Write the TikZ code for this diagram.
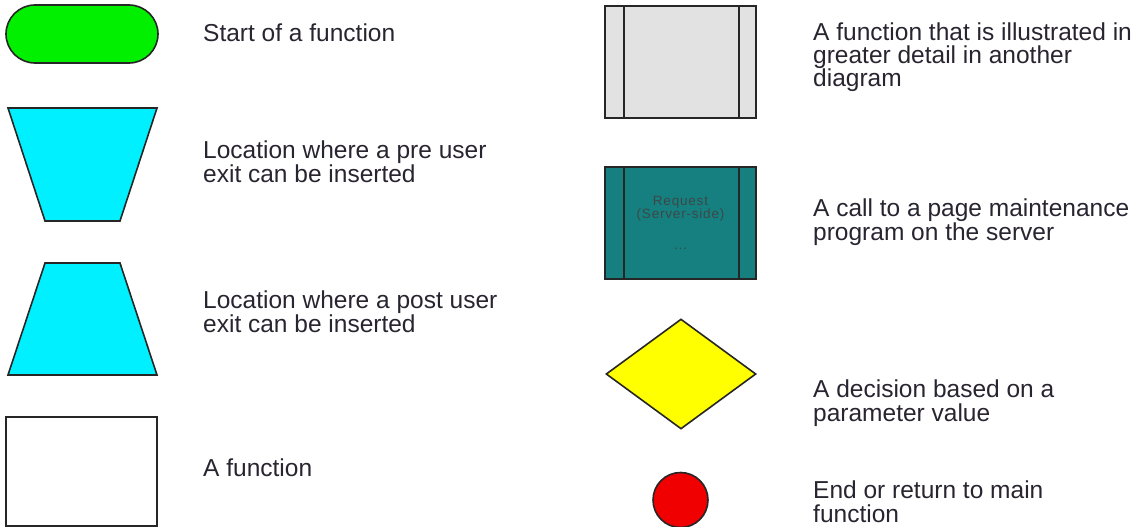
\documentclass[tikz,border=0pt]{standalone}
\usepackage{fontspec}
\setmainfont{Liberation Sans}
\usetikzlibrary{shapes.geometric, shapes.misc, positioning}

\definecolor{termgreen}{RGB}{0,240,0}
\definecolor{exitcyan}{RGB}{0,240,255}
\definecolor{subgrey}{RGB}{226,226,226}
\definecolor{callteal}{RGB}{22,128,128}
\definecolor{calltext}{RGB}{60,72,72}
\definecolor{choiceyellow}{RGB}{255,255,0}
\definecolor{endred}{RGB}{240,0,0}
\definecolor{labelgrey}{RGB}{40,36,48}

\begin{document}
\begin{tikzpicture}[
        x=1pt, y=-1pt,
        symbol/.style={draw=black!85, line width=1.6pt, inner sep=0pt},
        termbox/.style={symbol, rounded rectangle, fill=termgreen, minimum width=152pt, minimum height=58pt},
        exitshape/.style={symbol, fill=exitcyan, line join=miter},
        funcbox/.style={symbol, rectangle, fill=white, minimum width=151pt, minimum height=109pt},
        subbox/.style={symbol, rectangle, fill=subgrey, minimum width=151pt, minimum height=112pt},
        subline/.style={draw=black!85, line width=1.6pt},
        callbox/.style={subbox, fill=callteal, text=calltext, align=center,
            font=\fontsize{13.5}{11}\selectfont\addfontfeature{LetterSpace=6}},
        choicebox/.style={symbol, diamond, fill=choiceyellow, minimum width=150pt, minimum height=110pt},
        endbox/.style={symbol, circle, fill=endred, minimum size=55pt},
        desc/.style={anchor=base west, align=left, inner sep=0pt, text=labelgrey, font=\fontsize{24.5}{23.5}\selectfont}
    ]
        \useasboundingbox (0,0) rectangle (1138,527);

        % Left column (symbols)
        \node[termbox] (start) at (82,34) {};
        \draw[exitshape] (8,108) coordinate (pre) -- (157,108) -- (120,221) -- (45,221) -- cycle;
        \draw[exitshape] (45,263) coordinate (post) -- (120,263) -- (157,375) -- (8,375) -- cycle;
        \node[funcbox] (func) at (81.5,471.5) {};

        % Left column (meaning), anchored at the last baseline
        \node[desc] (startdesc) at (203,42) {Start of a function};
        \node[desc] (predesc) at (203,182) {Location where a pre user\\exit can be inserted};
        \node[desc] (postdesc) at (203,332) {Location where a post user\\exit can be inserted};
        \node[desc] (funcdesc) at (203,476) {A function};

        % Right column (symbols)
        \node[subbox] (detail) at (680.5,62) {};
        \draw[subline] ([xshift=20pt]detail.north west) -- ([xshift=20pt]detail.south west);
        \draw[subline] ([xshift=-18pt]detail.north east) -- ([xshift=-18pt]detail.south east);
        \node[callbox] (server) at (680.5,223) {Request\\(Server-side)\\[20pt]...};
        \draw[subline] ([xshift=20pt]server.north west) -- ([xshift=20pt]server.south west);
        \draw[subline] ([xshift=-18pt]server.north east) -- ([xshift=-18pt]server.south east);
        \node[choicebox] (choice) at (681,374) {};
        \node[endbox] (finish) at (680.5,500) {};

        % Right column (meaning)
        \node[desc] (detaildesc) at (813,87) {A function that is illustrated in\\greater detail in another\\diagram};
        \node[desc] (serverdesc) at (813,240) {A call to a page maintenance\\program on the server};
        \node[desc] (choicedesc) at (813,421) {A decision based on a\\parameter value};
        \node[desc] (finishdesc) at (813,522) {End or return to main\\function};
\end{tikzpicture}
\end{document}
